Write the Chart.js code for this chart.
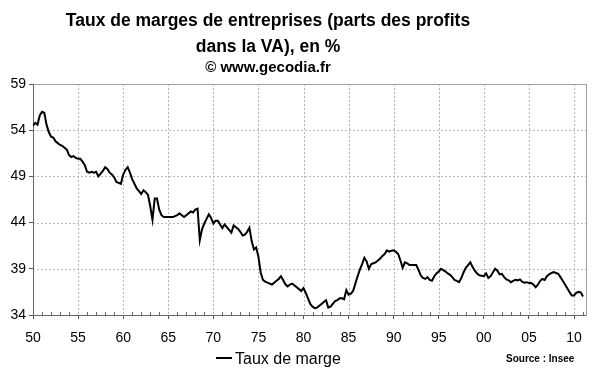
<!DOCTYPE html>
<html>
<head>
<meta charset="utf-8">
<script src="https://cdn.jsdelivr.net/npm/chart.js@4.4.1/dist/chart.umd.min.js"></script>
<style>
    html, body { margin: 0; padding: 0; background: #fff; }
    #wrap { position: relative; width: 600px; height: 372px; font-family: "Liberation Sans", Arial, sans-serif; color: #000; }
    #chart { position: absolute; left: 0; top: 0; }
    .title { position: absolute; left: 0; width: 536px; text-align: center; font-weight: bold; white-space: nowrap; line-height: 1; }
    .legend-line { position: absolute; left: 216px; top: 357px; width: 16px; height: 2px; background: #000; }
    .legend-text { position: absolute; left: 235px; top: 351px; font-size: 16px; line-height: 1; white-space: nowrap; }
    .source { position: absolute; left: 506px; top: 354px; font-size: 10px; font-weight: bold; line-height: 1; white-space: nowrap; }
</style>
</head>
<body>
<div id="wrap">
    <canvas id="chart" width="600" height="372"></canvas>
    <div class="title" style="top:12px;font-size:17.5px">Taux de marges de entreprises (parts des profits</div>
    <div class="title" style="top:38px;font-size:17.5px">dans la VA), en %</div>
    <div class="title" style="top:59px;font-size:15px">© www.gecodia.fr</div>
    <div class="legend-line"></div>
    <div class="legend-text">Taux de marge</div>
    <div class="source">Source : Insee</div>
</div>
<script>
// Taux de marge trimestriel, 1950 T1 -> 2011 T1
const startYear = 1950;
const taux = [
    54.5, 54.8, 54.6, 55.6, 56.0, 55.9, 54.6, 53.8,
    53.3, 53.2, 52.8, 52.6, 52.4, 52.3, 52.1, 51.9,
    51.3, 51.1, 51.2, 51.0, 50.9, 50.9, 50.6, 50.2,
    49.5, 49.4, 49.5, 49.4, 49.5, 49.0, 49.3, 49.6,
    50.0, 49.8, 49.4, 49.2, 48.9, 48.4, 48.3, 48.2,
    49.2, 49.7, 50.0, 49.4, 48.7, 48.2, 47.7, 47.4,
    47.1, 47.5, 47.3, 47.0, 45.8, 44.3, 46.6, 46.6,
    45.4, 44.8, 44.6, 44.6, 44.6, 44.6, 44.6, 44.7,
    44.8, 45.0, 44.8, 44.6, 44.8, 45.0, 45.2, 45.1,
    45.4, 45.5, 42.1, 43.3, 43.9, 44.4, 44.9, 44.5,
    43.9, 44.2, 44.2, 43.8, 43.4, 43.8, 43.5, 43.2,
    42.9, 43.7, 43.5, 43.3, 43.0, 42.6, 42.7, 43.0,
    43.45, 42.0, 41.1, 41.3, 40.3, 38.6, 37.8, 37.6,
    37.5, 37.4, 37.3, 37.5, 37.7, 37.9, 38.2, 37.75,
    37.3, 37.1, 37.3, 37.4, 37.2, 37.0, 36.8, 36.6,
    36.9, 36.4, 35.8, 35.2, 34.9, 34.75, 34.8, 35.0,
    35.2, 35.4, 35.6, 34.8, 34.9, 35.2, 35.5, 35.6,
    35.8, 35.8, 35.7, 36.7, 36.2, 36.3, 36.6, 37.4,
    38.2, 38.9, 39.5, 40.2, 39.8, 39.0, 39.5, 39.6,
    39.7, 39.9, 40.1, 40.4, 40.6, 41.0, 40.85, 40.95,
    41.0, 40.85, 40.6, 39.9, 39.1, 39.7, 39.6, 39.4,
    39.4, 39.4, 39.4, 38.9, 38.3, 38.0, 37.9, 38.1,
    37.8, 37.7, 38.2, 38.5, 38.7, 39.0, 38.85, 38.7,
    38.5, 38.35, 38.1, 37.8, 37.7, 37.55, 38.0, 38.6,
    39.1, 39.4, 39.7, 39.2, 38.8, 38.5, 38.3, 38.25,
    38.2, 38.5, 38.0, 38.2, 38.6, 39.0, 38.8, 38.4,
    38.45, 38.1, 37.85, 37.75, 37.55, 37.7, 37.8, 37.75,
    37.85, 37.6, 37.5, 37.55, 37.45, 37.45, 37.3, 37.0,
    37.3, 37.7, 37.9, 37.8, 38.2, 38.4, 38.55, 38.65,
    38.55, 38.45, 38.1, 37.7, 37.3, 36.9, 36.5, 36.1,
    36.1, 36.4, 36.5, 36.45, 36.0
];
const tickYears = [1950, 1955, 1960, 1965, 1970, 1975, 1980, 1985, 1990, 1995, 2000, 2005, 2010];
const tickLabels = ['50', '55', '60', '65', '70', '75', '80', '85', '90', '95', '00', '05', '10'];
const yTicks = [34, 39, 44, 49, 54, 59];

const points = taux.map((v, i) => ({ x: startYear + i / 4, y: v }));

// cadre gris, grille pointillée + petites graduations annuelles vers l'intérieur
const framePlugin = {
    id: 'frame',
    beforeDatasetsDraw(chart) {
        const { ctx, chartArea: a } = chart;
        const xs = chart.scales.x, ys = chart.scales.y;
        ctx.save();
        ctx.lineWidth = 1;
        ctx.strokeStyle = '#b8b8b8';
        ctx.setLineDash([2, 2]);
        ctx.beginPath();
        tickYears.forEach(v => {
            const px = Math.round(xs.getPixelForValue(v)) + 0.5;
            ctx.moveTo(px, a.top);
            ctx.lineTo(px, a.bottom);
        });
        yTicks.forEach(v => {
            const py = Math.round(ys.getPixelForValue(v)) + 0.5;
            ctx.moveTo(a.left, py);
            ctx.lineTo(a.right, py);
        });
        ctx.stroke();
        ctx.setLineDash([]);
        ctx.strokeStyle = '#a0a0a0';
        ctx.strokeRect(Math.round(a.left) + 0.5, Math.round(a.top) + 0.5, Math.round(a.right - a.left), Math.round(a.bottom - a.top));
        ctx.strokeStyle = '#666';
        ctx.beginPath();
        ctx.moveTo(Math.round(a.left) + 0.5, a.top);
        ctx.lineTo(Math.round(a.left) + 0.5, Math.round(a.bottom) + 0.5);
        ctx.lineTo(a.right, Math.round(a.bottom) + 0.5);
        for (let y = 1951; y <= 2011; y++) {
            if (y % 5 === 0) continue;
            const px = Math.round(xs.getPixelForValue(y)) + 0.5;
            ctx.moveTo(px, Math.round(a.bottom));
            ctx.lineTo(px, Math.round(a.bottom) - 3);
        }
        ctx.stroke();
        ctx.restore();
    }
};

new Chart(document.getElementById('chart'), {
    type: 'line',
    data: {
        datasets: [{
            label: 'Taux de marge',
            data: points,
            borderColor: '#000',
            borderWidth: 2,
            pointRadius: 0,
            tension: 0,
            fill: false
        }]
    },
    options: {
        responsive: false,
        animation: false,
        devicePixelRatio: 1,
        layout: { padding: { top: 84, right: 14, left: 0, bottom: 0 } },
        plugins: { legend: { display: false }, title: { display: false }, tooltip: { enabled: false } },
        scales: {
            x: {
                type: 'linear',
                min: 1950,
                max: 2011.33,
                afterBuildTicks: s => { s.ticks = tickYears.map(v => ({ value: v })); },
                afterFit: s => { s.height = 57; },
                ticks: {
                    autoSkip: false,
                    maxRotation: 0,
                    padding: 11,
                    color: '#000',
                    font: { family: 'Liberation Sans', size: 14 },
                    callback: v => tickLabels[tickYears.indexOf(v)] ?? ''
                },
                grid: { drawOnChartArea: false, tickColor: '#555', tickLength: 4 },
                border: { display: false }
            },
            y: {
                min: 34,
                max: 59,
                afterBuildTicks: s => { s.ticks = yTicks.map(v => ({ value: v })); },
                afterFit: s => { s.width = 33; },
                ticks: {
                    padding: 3,
                    color: '#000',
                    font: { family: 'Liberation Sans', size: 14 }
                },
                grid: { drawOnChartArea: false, tickColor: '#555', tickLength: 4 },
                border: { display: false }
            }
        }
    },
    plugins: [framePlugin]
});
</script>
</body>
</html>
